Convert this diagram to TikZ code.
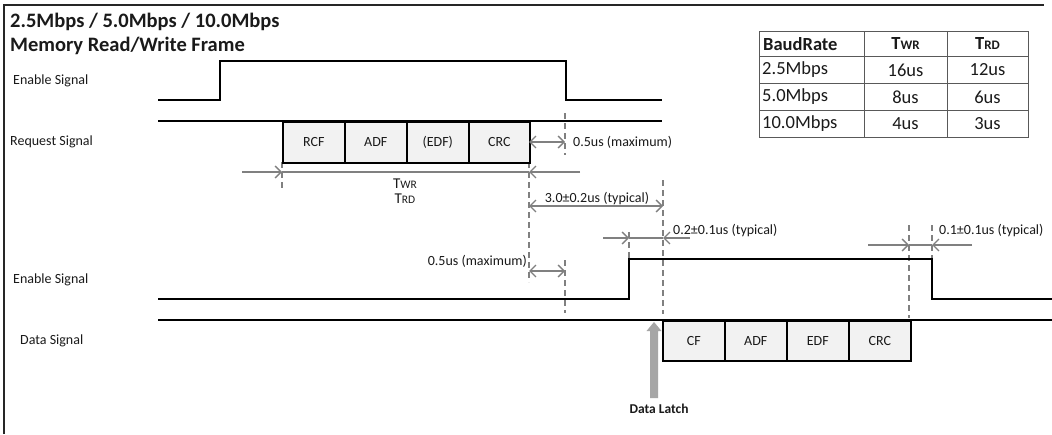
\documentclass[tikz,border=0pt]{standalone}
\usepackage{fontspec}
\setmainfont{Carlito}
\usetikzlibrary{arrows.meta}
\definecolor{dimc}{HTML}{808080}
\definecolor{boxfill}{HTML}{F2F2F2}
\definecolor{textc}{HTML}{1A1A1A}
\definecolor{framec}{HTML}{262626}
\definecolor{tablec}{HTML}{595959}
\definecolor{latchc}{HTML}{A6A6A6}
\begin{document}
\begin{tikzpicture}[x=1pt,y=-1pt,
  sig/.style={line width=2.5pt, black, line join=miter},
  fieldbox/.style={draw=black, line width=1.6pt, fill=boxfill, anchor=north west,
    minimum height=41pt, inner sep=0pt, font=\fontsize{14}{16}\selectfont, text=textc},
  dimline/.style={draw=dimc, line width=1.3pt},
  guide/.style={draw=dimc, line width=1.3pt, dash pattern=on 6pt off 4pt},
  tipone/.style={dimline, -{Straight Barb[length=6pt,width=12pt]}},
  tipboth/.style={dimline, {Straight Barb[length=6pt,width=12pt]}-{Straight Barb[length=6pt,width=12pt]}},
  lbl/.style={font=\fontsize{14}{16}\selectfont, inner sep=0pt, text=textc},
  tbl/.style={font=\fontsize{18.5}{21}\selectfont, inner sep=0pt, text=textc},
  tblh/.style={font=\bfseries\fontsize{18.5}{21}\selectfont, inner sep=0pt, text=textc}
]
\useasboundingbox (0,0) rectangle (1052,434);
\fill[white] (0,0) rectangle (1052,434);
% frame
\draw[framec, line width=2pt] (4,434) -- (4,5) -- (1044,5);
% titles
\node[anchor=base west, inner sep=0pt, font=\bfseries\fontsize{20.5}{24}\selectfont, text=textc] (title1) at (10,27) {2.5Mbps / 5.0Mbps / 10.0Mbps};
\node[anchor=base west, inner sep=0pt, font=\bfseries\fontsize{20.5}{24}\selectfont, text=textc] (title2) at (10,51) {Memory Read/Write Frame};
% signal names
\node[lbl, anchor=west] (en1) at (13,81) {Enable Signal};
\node[lbl, anchor=west] (req) at (10,142) {Request Signal};
\node[lbl, anchor=west] (en2) at (13,280) {Enable Signal};
\node[lbl, anchor=west] (dat) at (20,341) {Data Signal};
% guides (dashed)
\draw[guide] (565,113) -- (565,155);
\draw[guide] (565,260) -- (565,313);
\draw[guide] (282,162) -- (282,190);
\draw[guide] (529,162) -- (529,282);
\draw[guide] (663,180) -- (663,314);
\draw[guide] (629,232) -- (629,258);
\draw[guide] (909,225) -- (909,318);
\draw[guide] (932,225) -- (932,258);
% signals
\draw[sig] (158,100) -- (220,100) -- (220,61) -- (566,61) -- (566,100) -- (662,100);
\draw[sig] (158,121) -- (662,121);
\draw[sig] (158,299) -- (629,299) -- (629,259) -- (932,259) -- (932,299) -- (1052,299);
\draw[sig] (158,320) -- (1052,320);
% request frame
\node[fieldbox, minimum width=62pt] (rcf) at (282,121) {RCF};
\node[fieldbox, minimum width=62pt] (adf1) at (344,121) {ADF};
\node[fieldbox, minimum width=62pt] (edf1) at (406,121) {(EDF)};
\node[fieldbox, minimum width=61pt] (crc1) at (468,121) {CRC};
% data frame
\node[fieldbox, minimum width=62pt, minimum height=40pt] (cf) at (662,320) {CF};
\node[fieldbox, minimum width=62pt, minimum height=40pt] (adf2) at (724,320) {ADF};
\node[fieldbox, minimum width=62pt, minimum height=40pt] (edf2) at (786,320) {EDF};
\node[fieldbox, minimum width=62pt, minimum height=40pt] (crc2) at (848,320) {CRC};
% dimension arrows
\coordinate (a1) at (529,142); \coordinate (a2) at (565,142);
\draw[tipboth] (a1) -- (a2);
\node[lbl, anchor=west] (m1) at (573,142) {0.5us (maximum)};
\coordinate (t0) at (242,172); \coordinate (t1) at (282,172);
\coordinate (t2) at (529,172); \coordinate (t3) at (580,172);
\draw[tipone] (t0) -- (t1);
\draw[dimline] (t1) -- (t2);
\draw[tipone] (t3) -- (t2);
\node[lbl, font=\fontsize{15}{17}\selectfont] (twr) at (405,184) {T{\fontsize{11.5}{13}\selectfont WR}};
\node[lbl, font=\fontsize{15}{17}\selectfont] (trd) at (405,199) {T{\fontsize{11.5}{13}\selectfont RD}};
\coordinate (b1) at (529,206); \coordinate (b2) at (663,206);
\draw[tipboth] (b1) -- (b2);
\node[lbl] (m2) at (597,199) {3.0±0.2us (typical)};
\coordinate (c0) at (603,238); \coordinate (c1) at (629,238);
\coordinate (c2) at (663,238); \coordinate (c3) at (690,238);
\draw[tipone] (c0) -- (c1);
\draw[dimline] (c1) -- (c2);
\draw[tipone] (c3) -- (c2);
\node[lbl, anchor=west] (m3) at (673,231) {0.2±0.1us (typical)};
\coordinate (d1) at (529,271); \coordinate (d2) at (565,271);
\draw[tipboth] (d1) -- (d2);
\node[lbl, anchor=east] (m4) at (527,261) {0.5us (maximum)};
\coordinate (e0) at (868,245); \coordinate (e1) at (909,245);
\coordinate (e2) at (932,245); \coordinate (e3) at (972,245);
\draw[tipone] (e0) -- (e1);
\draw[dimline] (e1) -- (e2);
\draw[tipone] (e3) -- (e2);
\node[lbl, anchor=west] (m5) at (939,231) {0.1±0.1us (typical)};
% data latch
\fill[latchc] (650,398) -- (650,331) -- (646.5,331) -- (654,322) -- (661.5,331) -- (658,331) -- (658,398) -- cycle;
\node[lbl, font=\bfseries\fontsize{13.5}{15}\selectfont] (latch) at (659,409) {Data Latch};
% table
\draw[tablec, line width=1pt] (759,31) rectangle (1028,137);
\foreach \yy in {56,83,110} \draw[tablec, line width=1pt] (759,\yy) -- (1028,\yy);
\foreach \xx in {864,947} \draw[tablec, line width=1pt] (\xx,31) -- (\xx,137);
\node[tblh, anchor=west] (h1) at (763,44) {BaudRate};
\node[tblh] (h2) at (905.5,44) {T{\fontsize{13}{15}\selectfont WR}};
\node[tblh] (h3) at (987.5,44) {T{\fontsize{13}{15}\selectfont RD}};
\node[tbl, anchor=west] (r1) at (762,70) {2.5Mbps};
\node[tbl] (r1b) at (905.5,70) {16us};
\node[tbl] (r1c) at (987.5,70) {12us};
\node[tbl, anchor=west] (r2) at (762,97) {5.0Mbps};
\node[tbl] (r2b) at (905.5,97) {8us};
\node[tbl] (r2c) at (987.5,97) {6us};
\node[tbl, anchor=west] (r3) at (762,123.5) {10.0Mbps};
\node[tbl] (r3b) at (905.5,123.5) {4us};
\node[tbl] (r3c) at (987.5,123.5) {3us};
\end{tikzpicture}
\end{document}
